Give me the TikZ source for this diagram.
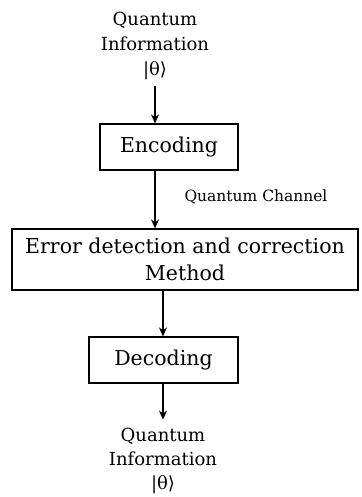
\documentclass[tikz,border=0pt]{standalone}
\usepackage{fontspec}
\setmainfont{DejaVu Serif}
\usetikzlibrary{arrows.meta}

\begin{document}
\begin{tikzpicture}[x=1pt,y=-1pt,>={Stealth[length=9pt,width=8pt]},line width=1.2pt,
        box/.style={draw,inner sep=0pt,align=center,font=\fontsize{20.5}{27}\selectfont},
        info/.style={align=center,inner sep=0pt,font=\fontsize{18}{25}\selectfont}]
            \useasboundingbox (0,0) rectangle (361,497);
            \node[info] (src) at (155,46) {Quantum\\Information\\|θ⟩};
            \node[box,minimum width=138pt,minimum height=46pt] (enc) at (169,147) {Encoding};
            \node[box,minimum width=346pt,minimum height=61pt] (err) at (185,259.5) {Error detection and correction\\Method};
            \node[box,minimum width=149pt,minimum height=46pt] (dec) at (163.5,360) {Decoding};
            \node[info,font=\fontsize{18}{24}\selectfont] (dst) at (163,461) {Quantum\\Information\\|θ⟩};
            \node[font=\fontsize{15.5}{18}\selectfont] (chan) at (256,197) {Quantum Channel};
            \path[->]
            (src.south) edge[shorten <=6pt] (src.south |- enc.north)
            (enc.south -| src.south) edge (err.north -| src.south)
            (err.south -| dst.north) edge (dec.north -| dst.north)
            (dec.south -| dst.north) edge[shorten >=8pt] (dst.north)
            ;
        \end{tikzpicture}
\end{document}
